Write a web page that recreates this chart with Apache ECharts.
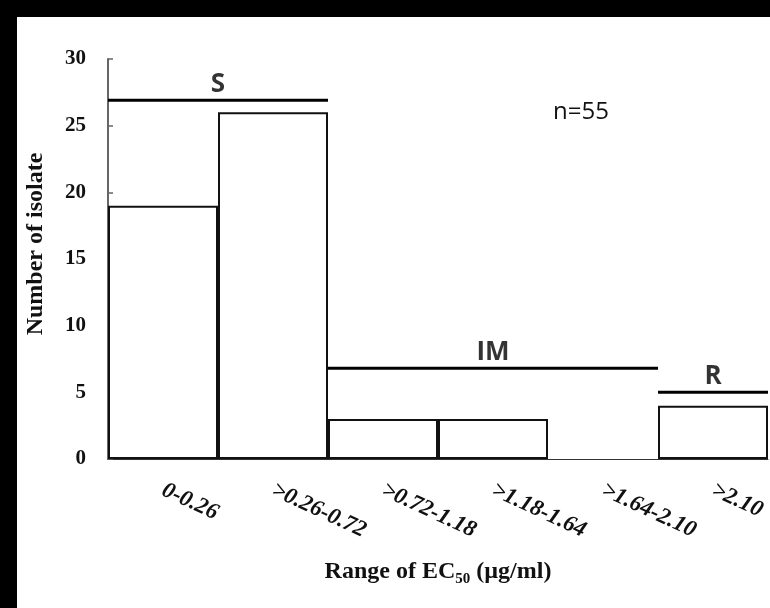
<!DOCTYPE html>
<html>
<head>
<meta charset="utf-8">
<script src="https://cdn.jsdelivr.net/npm/echarts@6/dist/echarts.min.js"></script>
<style>
html,body{margin:0;padding:0;background:#fff;}
#chart{width:770px;height:608px;}
</style>
</head>
<body>
<div id="chart"></div>
<script>
// ---- data ----
const categories = ['0-0.26', '˃0.26-0.72', '˃0.72-1.18', '˃1.18-1.64', '˃1.64-2.10', '˃2.10'];
const isolates = [19, 26, 3, 3, 0, 4];
const yMin = 0, yMax = 30, yStep = 5;
const groupNames = ['S', 'IM', 'R'];
const groupStart = [0, 2, 5];
const groupEnd = [2, 5, 6];
const groupLevel = [26.9, 6.8, 5];
const sampleNote = 'n=55';

const chart = echarts.init(document.getElementById('chart'));

const barData = isolates.map(v => v === 0 ? { value: v, itemStyle: { borderWidth: 0 } } : v);

const groupLineSeries = groupNames.map((g, i) => ({
  type: 'line',
  xAxisIndex: 1,
  yAxisIndex: 0,
  data: [[groupStart[i], groupLevel[i]], [groupEnd[i], groupLevel[i]]],
  symbol: 'none',
  lineStyle: { color: '#000', width: 3 },
  silent: true,
  z: 5
}));

const groupLabelSeries = {
  type: 'scatter',
  xAxisIndex: 1,
  yAxisIndex: 0,
  symbolSize: 0,
  data: groupNames.map((g, i) => ({ value: [(groupStart[i] + groupEnd[i]) / 2, groupLevel[i]], name: g })),
  label: {
    show: true,
    position: 'top',
    distance: 3,
    formatter: p => p.name,
    fontFamily: 'Open Sans',
    fontWeight: 'bold',
    fontSize: 26,
    color: '#000'
  },
  silent: true,
  z: 6
};

const option = {
  animation: false,
  backgroundColor: '#fff',
  grid: { left: 108, right: 2, top: 59, bottom: 149, containLabel: false },
  graphic: [
    { type: 'rect', left: 0, top: 0, shape: { width: 770, height: 17 }, style: { fill: '#000' }, z: 100 },
    { type: 'rect', left: 0, top: 0, shape: { width: 17, height: 608 }, style: { fill: '#000' }, z: 100 },
    { type: 'text', left: 553, top: 100, style: { text: sampleNote, font: '24px "Open Sans"', fill: '#111' }, z: 100 }
  ],
  xAxis: [
    {
      type: 'category',
      data: categories,
      boundaryGap: true,
      axisLine: { show: true, lineStyle: { color: '#333', width: 1 } },
      axisTick: { show: false },
      axisLabel: {
        rotate: -25,
        margin: 30,
        interval: 0,
        fontFamily: 'Liberation Serif',
        fontStyle: 'italic',
        fontWeight: 'bold',
        fontSize: 23,
        color: '#111'
      },
      name: '{a|Range of EC}{s|50}{a| (µg/ml)}',
      nameLocation: 'middle',
      nameGap: 98,
      nameTextStyle: {
        rich: {
          a: { fontFamily: 'Liberation Serif', fontWeight: 'bold', fontSize: 24, lineHeight: 30, color: '#111' },
          s: { fontFamily: 'Liberation Serif', fontWeight: 'bold', fontSize: 15, lineHeight: 20, verticalAlign: 'bottom', color: '#111' }
        }
      },
      splitLine: { show: false }
    },
    {
      type: 'value',
      min: 0,
      max: categories.length,
      show: false
    }
  ],
  yAxis: {
    type: 'value',
    min: yMin,
    max: yMax,
    interval: yStep,
    axisLine: { show: true, lineStyle: { color: '#666', width: 2 } },
    axisTick: { show: true, inside: true, length: 5, lineStyle: { color: '#666', width: 1.5 } },
    axisLabel: {
      margin: 22,
      fontFamily: 'Liberation Serif',
      fontWeight: 'bold',
      fontSize: 21,
      color: '#111'
    },
    splitLine: { show: false },
    name: 'Number of isolate',
    nameLocation: 'middle',
    nameGap: 60,
    nameTextStyle: {
      fontFamily: 'Liberation Serif',
      fontWeight: 'bold',
      fontSize: 24,
      color: '#111',
      padding: [0, 0, 0, 30]
    }
  },
  series: [
    {
      type: 'bar',
      data: barData,
      barCategoryGap: '0%',
      itemStyle: { color: '#fff', borderColor: '#111', borderWidth: 2 },
      silent: true,
      z: 3
    },
    ...groupLineSeries,
    groupLabelSeries
  ]
};

chart.setOption(option);
</script>
</body>
</html>
